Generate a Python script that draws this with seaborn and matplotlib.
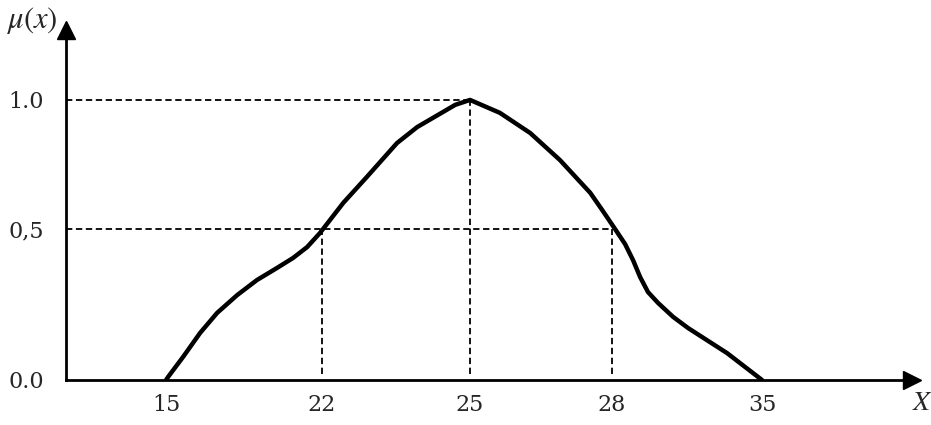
import numpy as np
import pandas as pd
import seaborn as sns
import matplotlib.pyplot as plt
from matplotlib.scale import FuncScale

# membership curve
x_vals = [15, 15.09, 15.76, 16.53, 17.29, 18.19, 19.08, 19.98, 20.70, 21.33, 21.91,
          22.43, 22.91, 23.52, 23.93, 24.45, 24.70, 25, 25.63, 26.27, 26.9, 27.54,
          27.79, 28.14, 28.61, 28.98, 29.31, 29.68, 30.15, 30.85, 31.55, 33.37, 35]
mu_vals = [0.0, 0.010, 0.076, 0.156, 0.222, 0.281, 0.331, 0.371, 0.404, 0.440, 0.487,
           0.601, 0.702, 0.833, 0.895, 0.953, 0.981, 1.0, 0.95, 0.872, 0.767, 0.64,
           0.574, 0.500, 0.450, 0.397, 0.341, 0.291, 0.255, 0.209, 0.172, 0.089, 0.0]

x_ticks = [15, 22, 25, 28, 35]
y_ticks = [0.0, 0.5, 1.0]
y_ticklabels = ['0.0', '0,5', '1.0']

# guide lines
half_x = [22, 28]
peak_x = 25

df = pd.DataFrame({'x': x_vals, 'mu': mu_vals})


def piecewise(src, dst):
    src = np.asarray(src, float)
    dst = np.asarray(dst, float)

    def f(v):
        v = np.asarray(v, float)
        out = np.interp(v, src, dst)
        lo_slope = (dst[1] - dst[0]) / (src[1] - src[0])
        hi_slope = (dst[-1] - dst[-2]) / (src[-1] - src[-2])
        out = np.where(v < src[0], dst[0] + (v - src[0]) * lo_slope, out)
        out = np.where(v > src[-1], dst[-1] + (v - src[-1]) * hi_slope, out)
        return out
    return f


# the drawing is schematic: ticks are not evenly spaced in value
x_pos = [166, 322, 470, 612, 762]
y_pos = [0, 151, 280]

sns.set_style('white')
plt.rcParams['font.family'] = ['DejaVu Serif']
plt.rcParams['mathtext.fontset'] = 'stix'

fig = plt.figure(figsize=(9.31, 4.25), dpi=100)
ax = fig.add_axes([66 / 931, 45 / 425, 846 / 931, 350 / 425])

ax.set_xscale(FuncScale(ax, (piecewise(x_ticks, x_pos), piecewise(x_pos, x_ticks))))
ax.set_yscale(FuncScale(ax, (piecewise(y_ticks, y_pos), piecewise(y_pos, y_ticks))))
ax.set_xlim(10.51, 42)
ax.set_ylim(0, 1.271)

dash = dict(color='black', lw=1.3, ls=(0, (3.5, 2)), zorder=1)
ax.plot([10.51, peak_x], [1, 1], **dash)
ax.plot([10.51, half_x[1]], [0.5, 0.5], **dash)
ax.plot([peak_x, peak_x], [0.02, 1], **dash)
for hx in half_x:
    ax.plot([hx, hx], [0.02, 0.5], **dash)

sns.lineplot(data=df, x='x', y='mu', ax=ax, sort=False, estimator=None,
             color='black', lw=3.2, zorder=3, solid_joinstyle='round',
             solid_capstyle='round')

for side in ['top', 'right']:
    ax.spines[side].set_visible(False)
for side in ['left', 'bottom']:
    ax.spines[side].set_linewidth(2.0)
    ax.spines[side].set_color('black')

ax.plot(1, 0, '>', color='black', ms=13, transform=ax.transAxes, clip_on=False)
ax.plot(0, 1, '^', color='black', ms=13, transform=ax.transAxes, clip_on=False)

ax.set_xticks(x_ticks)
ax.set_xticklabels([str(t) for t in x_ticks])
ax.set_yticks(y_ticks)
ax.set_yticklabels(y_ticklabels)
ax.tick_params(axis='both', length=0, labelsize=16)
ax.tick_params(axis='x', pad=10)
ax.tick_params(axis='y', pad=16)
ax.set_xlabel('')
ax.set_ylabel('')
ax.grid(False)

fig.text(6 / 931, 1 - 5 / 425, r'$\mu(x)$', fontsize=22, va='top', ha='left')
fig.text(922 / 931, 1 - 402 / 425, r'$X$', fontsize=20, va='center', ha='center')

fig.savefig('out.png', dpi=100)
